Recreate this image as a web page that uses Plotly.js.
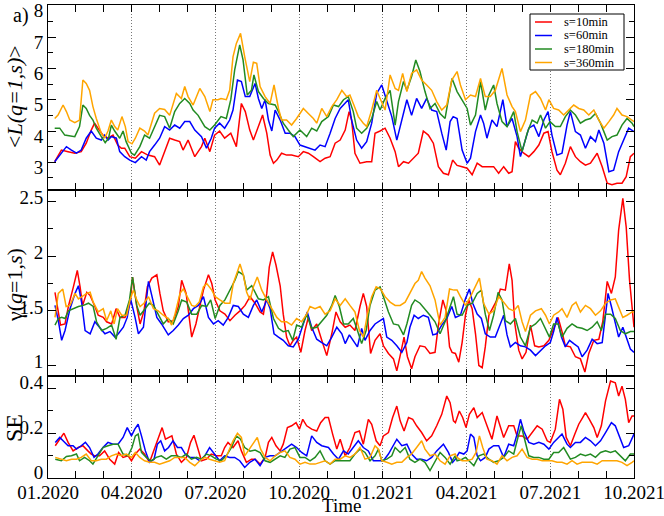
<!DOCTYPE html>
<html>
<head>
<meta charset="utf-8">
<script src="https://cdn.plot.ly/plotly-3.0.1.min.js"></script>
<style>html,body{margin:0;padding:0;background:#fff;}#chart{width:664px;height:516px;}</style>
</head>
<body>
<div id="chart"></div>
<script>
// time in months since 01.2020, value
const seriesNames = ['s=10min', 's=60min', 's=180min', 's=360min'];
const tickLabels = ['01.2020','04.2020','07.2020','10.2020','01.2021','04.2021','07.2021','10.2021'];
const tickMonths = [0, 3, 6, 9, 12, 15, 18, 21];
const L_ticks = [3, 4, 5, 6, 7, 8];
const G_ticks = [1, 1.5, 2, 2.5];
const S_ticks = [0, 0.2, 0.4];

// panel a: <L(q=1,s)>
const L10 = [[0.24,3.02],[0.48,3.39],[0.72,3.34],[0.96,3.29],[1.19,3.34],[1.37,3.61],[1.55,4.03],[1.67,4.25],[1.79,4.09],[1.97,3.87],[2.15,3.77],[2.33,3.87],[2.5,3.55],[2.63,3.45],[2.75,3.45],[2.93,3.18],[3.13,3.13],[3.35,3.34],[3.58,3.23],[3.82,3.18],[4.0,2.91],[4.18,3.34],[4.36,3.77],[4.54,3.71],[4.72,3.66],[4.84,3.39],[5.02,3.71],[5.26,3.18],[5.5,3.5],[5.62,3.77],[5.8,3.34],[5.97,3.87],[6.15,4.0],[6.33,3.77],[6.55,3.93],[6.75,3.5],[6.93,4.88],[7.07,4.62],[7.23,4.03],[7.36,3.71],[7.54,4.14],[7.69,4.51],[7.84,3.93],[7.96,3.23],[8.08,2.97],[8.2,3.07],[8.37,3.29],[8.55,3.23],[8.73,3.23],[8.97,3.18],[9.15,3.34],[9.33,3.29],[9.51,3.18],[9.75,3.02],[9.93,3.13],[10.11,3.18],[10.29,3.61],[10.47,3.71],[10.65,4.03],[10.79,4.62],[10.88,4.35],[11.0,3.29],[11.18,2.97],[11.42,3.02],[11.6,3.02],[11.72,3.93],[11.9,4.0],[12.08,4.09],[12.26,3.77],[12.44,3.34],[12.56,2.86],[12.74,3.02],[12.92,2.97],[13.09,3.13],[13.27,3.29],[13.45,4.0],[13.63,3.87],[13.81,3.61],[13.99,2.86],[14.17,2.65],[14.35,2.6],[14.5,3.07],[14.66,2.9],[14.84,2.86],[15.02,2.81],[15.2,2.6],[15.38,2.97],[15.56,2.86],[15.8,2.86],[15.97,2.86],[16.15,2.65],[16.33,2.86],[16.51,2.65],[16.63,2.7],[16.75,3.66],[16.87,3.45],[17.05,3.29],[17.23,3.18],[17.41,3.34],[17.59,3.55],[17.77,3.93],[17.92,3.98],[18.06,3.34],[18.24,2.75],[18.36,2.6],[18.54,2.97],[18.72,3.5],[18.9,3.18],[19.08,3.02],[19.26,2.91],[19.44,2.97],[19.68,3.29],[19.86,2.86],[20.04,2.33],[20.21,2.28],[20.39,2.33],[20.57,2.33],[20.72,2.54],[20.87,3.18],[21.0,3.29]];
const L60 = [[0.24,3.02],[0.42,3.23],[0.66,3.5],[0.84,3.39],[1.02,3.29],[1.19,3.39],[1.37,3.77],[1.55,4.0],[1.73,3.77],[1.91,3.71],[2.03,3.87],[2.15,3.71],[2.27,3.82],[2.45,3.77],[2.57,3.34],[2.75,3.18],[2.93,3.07],[3.13,2.99],[3.35,3.18],[3.52,3.07],[3.64,3.34],[3.82,3.55],[4.0,3.77],[4.18,4.14],[4.36,4.03],[4.54,4.19],[4.72,4.09],[4.9,4.3],[5.08,4.3],[5.26,4.03],[5.5,3.82],[5.68,3.45],[5.85,3.77],[5.97,4.09],[6.15,4.25],[6.33,4.09],[6.51,4.35],[6.63,4.67],[6.79,5.63],[6.93,5.58],[7.07,5.1],[7.23,5.1],[7.42,5.52],[7.54,5.04],[7.66,4.72],[7.78,5.0],[7.9,4.35],[8.02,4.0],[8.14,4.67],[8.32,4.35],[8.5,3.93],[8.67,3.93],[8.85,3.82],[9.03,3.55],[9.21,3.5],[9.39,3.45],[9.57,3.39],[9.75,3.55],[9.93,3.5],[10.11,3.93],[10.29,4.4],[10.47,4.72],[10.59,4.83],[10.76,5.0],[10.88,4.35],[11.06,3.71],[11.24,3.45],[11.42,3.66],[11.6,4.25],[11.78,5.2],[11.96,5.47],[12.14,5.0],[12.32,4.46],[12.5,3.71],[12.68,4.35],[12.86,5.0],[13.03,4.5],[13.21,5.04],[13.39,4.72],[13.57,5.04],[13.75,4.67],[13.93,4.62],[14.11,3.93],[14.27,3.39],[14.41,4.3],[14.52,4.46],[14.66,4.4],[14.84,3.39],[15.02,2.97],[15.14,3.13],[15.32,3.98],[15.5,4.51],[15.61,4.25],[15.73,3.77],[15.91,4.35],[16.09,4.14],[16.3,5.0],[16.45,4.14],[16.63,4.4],[16.81,3.82],[16.93,3.18],[17.08,3.61],[17.23,4.09],[17.41,4.19],[17.59,3.82],[17.77,4.35],[17.92,4.62],[18.06,3.87],[18.24,3.23],[18.42,3.29],[18.6,4.19],[18.72,4.62],[18.9,3.98],[19.08,3.87],[19.26,3.45],[19.44,3.82],[19.62,3.66],[19.74,4.03],[19.92,3.61],[20.1,2.7],[20.27,2.75],[20.45,3.34],[20.63,3.71],[20.81,4.09],[21.0,3.98]];
const L180 = [[0.24,4.09],[0.42,4.09],[0.6,3.87],[0.96,3.82],[1.13,4.14],[1.25,4.83],[1.37,4.72],[1.49,4.5],[1.61,4.35],[1.73,4.09],[1.91,3.82],[2.05,3.63],[2.17,3.77],[2.27,4.19],[2.39,4.0],[2.57,3.77],[2.69,4.0],[2.8,3.66],[2.99,3.29],[3.1,3.23],[3.29,3.5],[3.46,3.87],[3.64,3.77],[3.82,4.14],[4.0,4.5],[4.18,4.46],[4.36,4.09],[4.54,4.62],[4.72,4.88],[4.9,5.04],[5.08,4.88],[5.2,4.67],[5.38,4.5],[5.62,4.14],[5.8,4.03],[5.97,4.19],[6.2,4.46],[6.39,4.4],[6.55,5.0],[6.69,5.95],[6.87,6.75],[6.99,6.27],[7.14,5.15],[7.29,5.3],[7.38,5.79],[7.54,5.26],[7.72,5.04],[7.9,4.88],[8.14,4.83],[8.26,4.62],[8.43,4.25],[8.61,4.03],[8.79,3.82],[9.03,4.03],[9.27,3.82],[9.45,4.09],[9.63,4.0],[9.81,4.3],[10.05,4.46],[10.23,4.83],[10.41,4.78],[10.59,5.0],[10.76,5.1],[10.94,4.62],[11.06,4.09],[11.24,3.93],[11.42,4.09],[11.6,4.4],[11.78,4.94],[11.9,4.67],[12.08,5.04],[12.26,5.3],[12.44,4.19],[12.56,4.94],[12.74,5.58],[12.86,5.3],[13.03,5.74],[13.18,6.27],[13.33,5.9],[13.51,5.26],[13.69,4.72],[13.87,4.88],[14.05,4.56],[14.23,4.4],[14.41,5.42],[14.48,5.68],[14.66,5.26],[14.84,5.0],[15.02,4.72],[15.14,4.19],[15.32,4.51],[15.5,5.58],[15.67,4.67],[15.8,5.15],[15.97,5.47],[16.09,4.88],[16.27,4.3],[16.45,4.14],[16.69,4.62],[16.81,3.98],[16.99,3.34],[17.17,3.93],[17.35,4.35],[17.53,4.25],[17.65,4.51],[17.83,4.09],[17.99,4.3],[18.18,4.14],[18.36,4.14],[18.54,4.46],[18.72,4.67],[18.9,4.51],[19.08,4.25],[19.26,4.35],[19.44,4.4],[19.62,4.56],[19.8,4.25],[20.04,3.71],[20.21,3.82],[20.39,3.87],[20.57,4.19],[20.75,4.4],[20.93,4.25],[21.0,4.14]];
const L360 = [[0.24,4.4],[0.36,4.51],[0.54,4.83],[0.66,4.62],[0.78,4.35],[0.96,4.27],[1.13,4.35],[1.25,5.63],[1.37,5.52],[1.49,5.3],[1.61,4.78],[1.73,4.4],[1.91,3.93],[2.03,3.77],[2.15,4.0],[2.27,4.35],[2.39,4.14],[2.5,4.03],[2.65,4.46],[2.77,4.14],[2.87,3.66],[3.01,3.59],[3.13,3.77],[3.29,4.09],[3.46,4.0],[3.58,3.87],[3.82,4.57],[4.0,4.72],[4.18,4.69],[4.36,4.5],[4.6,5.2],[4.78,5.04],[4.9,5.42],[5.02,5.1],[5.2,4.83],[5.44,5.36],[5.62,5.1],[5.8,4.62],[5.91,5.0],[6.09,5.0],[6.2,5.04],[6.39,5.0],[6.51,5.3],[6.63,6.37],[6.75,6.8],[6.9,7.12],[7.05,6.37],[7.23,5.58],[7.36,6.2],[7.48,6.16],[7.6,5.42],[7.78,5.1],[7.96,4.88],[8.1,5.47],[8.26,4.72],[8.37,4.35],[8.55,4.35],[8.73,4.19],[8.91,4.4],[9.15,4.72],[9.33,4.56],[9.51,4.4],[9.63,4.25],[9.81,4.72],[9.99,4.46],[10.17,4.78],[10.35,5.0],[10.53,5.3],[10.7,5.1],[10.82,5.15],[10.94,4.88],[11.12,4.46],[11.3,4.25],[11.42,4.14],[11.6,4.67],[11.78,5.3],[11.9,5.04],[12.08,4.67],[12.26,5.79],[12.44,5.36],[12.56,5.3],[12.71,5.84],[12.86,5.26],[13.03,5.84],[13.21,5.95],[13.39,5.63],[13.57,5.47],[13.75,5.3],[13.93,4.94],[14.11,4.67],[14.29,4.83],[14.47,5.63],[14.66,5.9],[14.78,5.47],[14.96,5.0],[15.14,5.15],[15.32,5.1],[15.5,5.68],[15.67,5.1],[15.85,5.1],[16.03,5.3],[16.27,6.0],[16.45,5.15],[16.63,4.78],[16.75,4.62],[16.93,3.98],[17.11,4.35],[17.29,5.15],[17.47,5.26],[17.65,5.04],[17.83,4.67],[17.95,5.0],[18.12,4.72],[18.3,4.67],[18.48,4.51],[18.66,4.67],[18.84,4.83],[19.02,4.72],[19.2,4.67],[19.38,4.51],[19.56,4.67],[19.74,4.35],[19.92,4.09],[20.1,4.3],[20.27,4.51],[20.39,4.72],[20.57,4.51],[20.75,4.46],[20.93,4.35],[21.0,4.3]];

// panel b: gamma(q=1,s)
const G10 = [[0.25,1.67],[0.37,1.47],[0.45,1.37],[0.61,1.38],[0.73,1.54],[0.91,1.72],[1.05,1.87],[1.15,1.72],[1.24,1.55],[1.39,1.67],[1.51,1.64],[1.68,1.54],[1.8,1.46],[1.98,1.44],[2.1,1.4],[2.28,1.38],[2.44,1.52],[2.58,1.44],[2.76,1.44],[2.94,1.57],[3.03,1.81],[3.18,1.54],[3.3,1.38],[3.44,1.5],[3.56,1.72],[3.72,1.8],[3.9,1.83],[4.01,1.66],[4.13,1.5],[4.31,1.4],[4.49,1.41],[4.67,1.54],[4.79,1.78],[4.95,1.66],[5.07,1.4],[5.15,1.26],[5.3,1.38],[5.45,1.57],[5.57,1.69],[5.75,1.83],[5.87,1.75],[5.99,1.6],[6.16,1.5],[6.34,1.47],[6.52,1.41],[6.7,1.46],[6.88,1.5],[7.06,1.55],[7.24,1.63],[7.42,1.57],[7.6,1.49],[7.72,1.47],[7.84,1.66],[7.93,1.9],[8.05,2.04],[8.17,1.92],[8.32,1.73],[8.43,1.47],[8.55,1.26],[8.67,1.18],[8.79,1.23],[8.91,1.26],[9.06,1.12],[9.21,1.32],[9.33,1.44],[9.45,1.32],[9.63,1.38],[9.81,1.23],[9.99,1.09],[10.17,1.29],[10.32,1.49],[10.47,1.4],[10.65,1.35],[10.82,1.37],[11.0,1.32],[11.18,1.54],[11.3,1.66],[11.42,1.54],[11.56,1.11],[11.72,1.23],[11.9,1.29],[12.02,1.18],[12.2,1.11],[12.38,1.06],[12.5,0.95],[12.62,1.09],[12.76,1.26],[12.88,1.08],[13.03,0.97],[13.15,1.08],[13.33,1.18],[13.51,1.17],[13.69,1.11],[13.87,1.12],[13.99,1.37],[14.15,1.6],[14.27,1.5],[14.39,1.17],[14.48,1.12],[14.6,1.11],[14.72,1.03],[14.84,1.21],[14.96,1.46],[15.08,1.6],[15.2,1.52],[15.32,1.29],[15.44,1.0],[15.56,0.98],[15.67,1.17],[15.8,1.46],[15.97,1.55],[16.09,1.6],[16.21,1.7],[16.39,1.69],[16.53,1.93],[16.63,1.78],[16.73,1.38],[16.87,1.14],[16.99,1.06],[17.13,1.12],[17.29,1.37],[17.44,1.18],[17.59,1.17],[17.77,1.18],[17.95,1.23],[18.12,1.34],[18.28,1.44],[18.42,1.31],[18.54,1.18],[18.72,1.17],[18.9,1.08],[19.08,1.06],[19.24,0.94],[19.38,1.11],[19.56,1.23],[19.74,1.24],[19.88,1.4],[20.04,1.77],[20.19,1.66],[20.33,1.81],[20.45,2.24],[20.6,2.53],[20.72,2.27],[20.84,1.78],[21.0,1.35]];
const G60 = [[0.25,1.55],[0.37,1.41],[0.49,1.23],[0.61,1.32],[0.79,1.52],[0.97,1.66],[1.09,1.73],[1.21,1.57],[1.33,1.32],[1.51,1.29],[1.68,1.4],[1.86,1.35],[2.04,1.29],[2.22,1.31],[2.4,1.26],[2.52,1.29],[2.7,1.35],[2.84,1.44],[2.96,1.61],[3.12,1.44],[3.24,1.29],[3.42,1.35],[3.6,1.77],[3.72,1.64],[3.9,1.44],[4.07,1.38],[4.31,1.28],[4.49,1.32],[4.67,1.37],[4.85,1.43],[5.03,1.46],[5.21,1.52],[5.39,1.55],[5.57,1.63],[5.75,1.44],[5.93,1.38],[6.1,1.41],[6.28,1.37],[6.46,1.44],[6.64,1.55],[6.82,1.54],[7.0,1.47],[7.18,1.44],[7.36,1.55],[7.48,1.6],[7.66,1.49],[7.84,1.6],[7.96,1.52],[8.1,1.29],[8.26,1.26],[8.43,1.23],[8.61,1.18],[8.79,1.17],[8.97,1.24],[9.15,1.38],[9.29,1.49],[9.45,1.35],[9.63,1.24],[9.81,1.21],[9.99,1.18],[10.17,1.26],[10.35,1.35],[10.53,1.29],[10.65,1.2],[10.8,1.28],[10.94,1.23],[11.09,1.17],[11.24,1.34],[11.36,1.23],[11.54,1.32],[11.72,1.38],[11.9,1.41],[12.02,1.43],[12.14,1.26],[12.32,1.23],[12.5,1.18],[12.68,1.12],[12.86,1.21],[12.97,1.35],[13.12,1.46],[13.27,1.43],[13.45,1.46],[13.63,1.44],[13.79,1.28],[13.93,1.29],[14.11,1.37],[14.29,1.43],[14.47,1.54],[14.6,1.44],[14.78,1.46],[14.96,1.61],[15.1,1.7],[15.22,1.57],[15.38,1.47],[15.53,1.43],[15.67,1.29],[15.85,1.26],[16.03,1.26],[16.21,1.38],[16.33,1.46],[16.45,1.28],[16.57,1.17],[16.75,1.21],[16.93,1.18],[17.11,1.17],[17.29,1.14],[17.47,1.09],[17.65,1.14],[17.83,1.18],[18.0,1.21],[18.12,1.31],[18.24,1.44],[18.4,1.26],[18.54,1.17],[18.69,1.23],[18.84,1.2],[19.0,1.17],[19.14,1.08],[19.32,1.14],[19.5,1.24],[19.68,1.2],[19.86,1.21],[20.0,1.49],[20.07,1.66],[20.19,1.54],[20.33,1.4],[20.45,1.26],[20.6,1.35],[20.75,1.23],[20.87,1.15],[21.0,1.12]];
const G180 = [[0.25,1.37],[0.37,1.43],[0.49,1.44],[0.61,1.43],[0.73,1.5],[0.91,1.52],[1.09,1.54],[1.27,1.55],[1.45,1.57],[1.62,1.54],[1.74,1.4],[1.92,1.32],[2.1,1.34],[2.28,1.37],[2.44,1.24],[2.58,1.44],[2.76,1.46],[2.92,1.6],[3.03,1.81],[3.18,1.55],[3.3,1.46],[3.48,1.52],[3.63,1.57],[3.78,1.55],[3.95,1.46],[4.13,1.38],[4.31,1.43],[4.49,1.38],[4.67,1.5],[4.79,1.6],[4.97,1.58],[5.15,1.47],[5.33,1.47],[5.51,1.55],[5.69,1.54],[5.83,1.6],[5.99,1.43],[6.16,1.55],[6.34,1.6],[6.52,1.69],[6.7,1.78],[6.82,1.86],[7.0,1.83],[7.12,1.69],[7.3,1.73],[7.54,1.61],[7.72,1.6],[7.9,1.63],[8.08,1.43],[8.26,1.34],[8.43,1.31],[8.61,1.32],[8.77,1.23],[8.91,1.37],[9.09,1.35],[9.27,1.47],[9.45,1.34],[9.63,1.35],[9.81,1.41],[9.99,1.46],[10.17,1.55],[10.29,1.64],[10.44,1.54],[10.59,1.38],[10.76,1.38],[10.94,1.43],[11.09,1.32],[11.24,1.2],[11.4,1.32],[11.54,1.55],[11.72,1.69],[11.9,1.72],[12.02,1.63],[12.2,1.49],[12.38,1.38],[12.56,1.37],[12.74,1.28],[12.86,1.38],[13.03,1.55],[13.15,1.6],[13.33,1.57],[13.51,1.52],[13.69,1.46],[13.87,1.4],[14.05,1.29],[14.23,1.4],[14.41,1.55],[14.53,1.63],[14.66,1.47],[14.84,1.46],[15.02,1.55],[15.2,1.57],[15.38,1.66],[15.53,1.69],[15.67,1.47],[15.82,1.32],[15.97,1.46],[16.13,1.67],[16.27,1.6],[16.39,1.41],[16.57,1.38],[16.75,1.43],[16.93,1.26],[17.11,1.18],[17.29,1.35],[17.47,1.38],[17.65,1.43],[17.8,1.35],[17.97,1.26],[18.12,1.38],[18.28,1.38],[18.42,1.26],[18.6,1.34],[18.78,1.38],[18.96,1.35],[19.14,1.34],[19.32,1.32],[19.5,1.35],[19.68,1.4],[19.83,1.32],[19.98,1.47],[20.16,1.47],[20.33,1.43],[20.51,1.32],[20.69,1.29],[20.87,1.31],[21.0,1.31]];
const G360 = [[0.25,1.44],[0.37,1.66],[0.53,1.7],[0.65,1.54],[0.79,1.55],[0.97,1.66],[1.09,1.61],[1.21,1.63],[1.39,1.66],[1.51,1.67],[1.62,1.58],[1.8,1.49],[1.98,1.52],[2.1,1.41],[2.25,1.5],[2.37,1.38],[2.49,1.52],[2.64,1.46],[2.82,1.46],[2.94,1.6],[3.06,1.69],[3.18,1.6],[3.3,1.54],[3.44,1.57],[3.6,1.63],[3.78,1.52],[3.95,1.5],[4.13,1.46],[4.31,1.43],[4.43,1.37],[4.55,1.47],[4.73,1.66],[4.85,1.7],[5.03,1.61],[5.15,1.55],[5.27,1.54],[5.42,1.58],[5.57,1.72],[5.69,1.75],[5.87,1.69],[5.99,1.63],[6.16,1.6],[6.34,1.57],[6.52,1.57],[6.64,1.75],[6.79,1.86],[6.88,1.93],[7.0,1.83],[7.12,1.67],[7.24,1.6],[7.36,1.72],[7.5,1.81],[7.66,1.69],[7.84,1.6],[8.02,1.52],[8.2,1.44],[8.37,1.4],[8.55,1.4],[8.73,1.37],[8.91,1.43],[9.09,1.4],[9.27,1.47],[9.39,1.54],[9.57,1.52],[9.75,1.54],[9.93,1.47],[10.11,1.5],[10.29,1.61],[10.47,1.55],[10.65,1.61],[10.82,1.55],[11.0,1.49],[11.16,1.32],[11.3,1.26],[11.45,1.47],[11.6,1.63],[11.76,1.72],[11.92,1.7],[12.08,1.63],[12.26,1.58],[12.44,1.55],[12.62,1.55],[12.8,1.58],[12.97,1.66],[13.15,1.75],[13.27,1.78],[13.39,1.86],[13.51,1.8],[13.69,1.73],[13.87,1.6],[14.05,1.37],[14.23,1.44],[14.39,1.7],[14.55,1.69],[14.66,1.69],[14.78,1.63],[14.96,1.55],[15.14,1.63],[15.32,1.72],[15.46,1.8],[15.61,1.57],[15.8,1.47],[15.97,1.5],[16.15,1.63],[16.33,1.58],[16.51,1.52],[16.69,1.5],[16.85,1.55],[16.99,1.4],[17.11,1.31],[17.29,1.46],[17.47,1.5],[17.68,1.52],[17.83,1.46],[17.97,1.38],[18.12,1.46],[18.3,1.49],[18.42,1.52],[18.6,1.44],[18.78,1.55],[18.92,1.58],[19.08,1.49],[19.26,1.55],[19.44,1.52],[19.62,1.46],[19.8,1.5],[19.98,1.57],[20.16,1.6],[20.33,1.61],[20.45,1.54],[20.6,1.44],[20.75,1.46],[20.93,1.49],[21.0,1.49]];

// panel c: SE
const S10 = [[0.26,0.144],[0.42,0.173],[0.57,0.2],[0.72,0.159],[0.9,0.121],[1.08,0.136],[1.25,0.144],[1.43,0.121],[1.55,0.107],[1.67,0.099],[1.85,0.099],[2.03,0.121],[2.21,0.084],[2.39,0.062],[2.53,0.114],[2.69,0.092],[2.87,0.099],[2.99,0.077],[3.13,0.107],[3.29,0.129],[3.46,0.107],[3.64,0.07],[3.82,0.136],[3.97,0.188],[4.09,0.225],[4.21,0.173],[4.36,0.181],[4.44,0.188],[4.6,0.107],[4.78,0.07],[4.96,0.092],[5.11,0.159],[5.23,0.191],[5.35,0.136],[5.5,0.077],[5.68,0.084],[5.85,0.107],[6.03,0.099],[6.21,0.099],[6.33,0.136],[6.45,0.159],[6.63,0.136],[6.81,0.166],[6.93,0.121],[7.11,0.07],[7.29,0.084],[7.42,0.084],[7.6,0.062],[7.78,0.092],[7.9,0.159],[8.02,0.181],[8.17,0.144],[8.32,0.121],[8.43,0.151],[8.58,0.225],[8.73,0.233],[8.89,0.247],[9.01,0.218],[9.13,0.262],[9.27,0.233],[9.45,0.218],[9.63,0.21],[9.77,0.247],[9.93,0.27],[10.05,0.27],[10.2,0.196],[10.35,0.129],[10.47,0.173],[10.65,0.099],[10.82,0.136],[11.0,0.203],[11.16,0.21],[11.3,0.151],[11.48,0.262],[11.6,0.24],[11.76,0.166],[11.9,0.144],[12.02,0.188],[12.2,0.203],[12.35,0.27],[12.5,0.321],[12.62,0.255],[12.76,0.21],[12.92,0.27],[13.07,0.262],[13.21,0.233],[13.39,0.203],[13.57,0.166],[13.75,0.188],[13.93,0.233],[14.11,0.284],[14.29,0.366],[14.41,0.336],[14.53,0.255],[14.6,0.247],[14.74,0.299],[14.86,0.27],[14.98,0.225],[15.1,0.284],[15.26,0.314],[15.38,0.27],[15.56,0.292],[15.67,0.255],[15.8,0.203],[15.91,0.173],[16.09,0.277],[16.21,0.233],[16.33,0.181],[16.51,0.233],[16.69,0.233],[16.81,0.188],[16.99,0.188],[17.17,0.173],[17.35,0.203],[17.53,0.233],[17.71,0.218],[17.89,0.166],[18.0,0.159],[18.18,0.218],[18.33,0.351],[18.45,0.307],[18.57,0.181],[18.72,0.144],[18.88,0.196],[19.02,0.24],[19.16,0.27],[19.26,0.292],[19.4,0.262],[19.56,0.225],[19.68,0.181],[19.83,0.233],[19.98,0.344],[20.16,0.433],[20.33,0.425],[20.45,0.366],[20.57,0.41],[20.69,0.351],[20.81,0.247],[20.93,0.277],[21.0,0.277]];
const S60 = [[0.26,0.159],[0.42,0.181],[0.54,0.166],[0.72,0.144],[0.9,0.144],[1.02,0.129],[1.19,0.144],[1.34,0.159],[1.49,0.136],[1.65,0.092],[1.79,0.107],[1.97,0.136],[2.15,0.159],[2.33,0.151],[2.51,0.151],[2.69,0.181],[2.84,0.225],[2.99,0.188],[3.11,0.218],[3.23,0.24],[3.35,0.188],[3.49,0.121],[3.64,0.07],[3.8,0.084],[3.92,0.151],[4.04,0.166],[4.18,0.121],[4.32,0.136],[4.48,0.166],[4.64,0.136],[4.78,0.136],[4.92,0.107],[5.08,0.092],[5.26,0.092],[5.44,0.077],[5.62,0.099],[5.79,0.136],[5.97,0.107],[6.15,0.077],[6.33,0.099],[6.51,0.092],[6.69,0.092],[6.87,0.077],[7.05,0.047],[7.23,0.07],[7.42,0.084],[7.6,0.055],[7.78,0.092],[7.96,0.099],[8.14,0.099],[8.32,0.114],[8.49,0.129],[8.73,0.151],[8.91,0.136],[9.09,0.114],[9.27,0.099],[9.45,0.188],[9.63,0.159],[9.81,0.144],[10.05,0.136],[10.23,0.107],[10.41,0.084],[10.59,0.121],[10.76,0.107],[10.94,0.136],[11.12,0.166],[11.3,0.136],[11.48,0.121],[11.66,0.077],[11.84,0.077],[12.02,0.077],[12.2,0.107],[12.38,0.151],[12.5,0.173],[12.68,0.144],[12.86,0.151],[13.03,0.107],[13.21,0.084],[13.39,0.084],[13.57,0.077],[13.75,0.092],[13.93,0.121],[14.17,0.151],[14.35,0.114],[14.5,0.07],[14.6,0.084],[14.74,0.114],[14.9,0.107],[15.02,0.121],[15.14,0.196],[15.26,0.181],[15.38,0.099],[15.5,0.077],[15.67,0.092],[15.8,0.129],[15.97,0.144],[16.15,0.144],[16.33,0.092],[16.51,0.151],[16.69,0.144],[16.81,0.196],[16.93,0.262],[17.05,0.21],[17.23,0.159],[17.41,0.151],[17.59,0.159],[17.77,0.151],[17.95,0.129],[18.12,0.159],[18.28,0.181],[18.42,0.196],[18.6,0.151],[18.72,0.136],[18.9,0.159],[19.08,0.159],[19.26,0.181],[19.44,0.166],[19.62,0.144],[19.8,0.166],[19.98,0.203],[20.19,0.247],[20.33,0.233],[20.51,0.173],[20.63,0.136],[20.81,0.144],[21.0,0.196]];
const S180 = [[0.26,0.084],[0.48,0.077],[0.66,0.096],[0.84,0.099],[1.02,0.107],[1.13,0.077],[1.31,0.092],[1.49,0.077],[1.61,0.062],[1.79,0.099],[1.97,0.136],[2.15,0.144],[2.33,0.151],[2.51,0.151],[2.69,0.107],[2.87,0.099],[3.01,0.136],[3.13,0.188],[3.23,0.196],[3.35,0.114],[3.52,0.092],[3.7,0.077],[3.88,0.092],[4.06,0.099],[4.24,0.084],[4.42,0.099],[4.6,0.099],[4.78,0.092],[4.96,0.107],[5.14,0.084],[5.32,0.092],[5.5,0.084],[5.68,0.107],[5.85,0.099],[6.03,0.084],[6.21,0.077],[6.39,0.099],[6.57,0.136],[6.75,0.188],[6.9,0.173],[7.05,0.136],[7.24,0.12],[7.42,0.125],[7.6,0.114],[7.78,0.077],[7.96,0.07],[8.14,0.084],[8.32,0.099],[8.49,0.092],[8.67,0.129],[8.85,0.136],[9.03,0.092],[9.21,0.092],[9.39,0.077],[9.57,0.092],[9.75,0.121],[9.93,0.077],[10.11,0.062],[10.29,0.077],[10.47,0.077],[10.65,0.077],[10.82,0.077],[11.0,0.107],[11.18,0.129],[11.36,0.114],[11.54,0.077],[11.72,0.099],[11.84,0.129],[11.96,0.077],[12.14,0.084],[12.32,0.099],[12.44,0.136],[12.62,0.114],[12.8,0.136],[12.97,0.084],[13.15,0.07],[13.33,0.084],[13.51,0.07],[13.69,0.033],[13.87,0.077],[14.05,0.114],[14.23,0.092],[14.41,0.062],[14.59,0.099],[14.66,0.077],[14.84,0.084],[14.96,0.092],[15.14,0.07],[15.26,0.055],[15.44,0.099],[15.61,0.107],[15.8,0.084],[15.97,0.07],[16.15,0.077],[16.33,0.092],[16.51,0.121],[16.69,0.107],[16.84,0.181],[16.96,0.233],[17.08,0.173],[17.23,0.099],[17.41,0.092],[17.59,0.092],[17.77,0.084],[17.95,0.084],[18.12,0.114],[18.3,0.114],[18.48,0.136],[18.6,0.107],[18.72,0.084],[18.9,0.092],[19.08,0.107],[19.26,0.099],[19.44,0.107],[19.62,0.092],[19.8,0.114],[19.98,0.121],[20.16,0.114],[20.33,0.121],[20.51,0.099],[20.69,0.077],[20.87,0.107],[21.0,0.107]];
const S360 = [[0.26,0.092],[0.48,0.084],[0.66,0.077],[0.84,0.084],[1.02,0.084],[1.19,0.092],[1.37,0.107],[1.55,0.077],[1.73,0.077],[1.91,0.084],[2.09,0.084],[2.27,0.099],[2.45,0.107],[2.63,0.099],[2.81,0.107],[2.99,0.092],[3.13,0.114],[3.29,0.092],[3.46,0.077],[3.64,0.07],[3.82,0.07],[4.0,0.062],[4.18,0.07],[4.36,0.077],[4.54,0.092],[4.72,0.092],[4.9,0.092],[5.08,0.07],[5.26,0.055],[5.44,0.077],[5.62,0.092],[5.79,0.084],[5.97,0.077],[6.15,0.07],[6.33,0.077],[6.51,0.129],[6.63,0.166],[6.79,0.2],[6.93,0.181],[7.05,0.099],[7.23,0.129],[7.38,0.159],[7.5,0.181],[7.62,0.129],[7.78,0.092],[7.96,0.077],[8.14,0.099],[8.32,0.114],[8.49,0.121],[8.67,0.092],[8.85,0.084],[9.03,0.062],[9.21,0.07],[9.39,0.062],[9.57,0.062],[9.75,0.07],[9.93,0.077],[10.11,0.062],[10.29,0.084],[10.47,0.084],[10.65,0.099],[10.82,0.092],[11.0,0.107],[11.18,0.136],[11.36,0.084],[11.54,0.092],[11.72,0.144],[11.84,0.129],[11.96,0.077],[12.14,0.07],[12.32,0.062],[12.5,0.07],[12.68,0.07],[12.86,0.092],[13.03,0.107],[13.21,0.136],[13.39,0.166],[13.51,0.129],[13.69,0.099],[13.87,0.107],[14.05,0.077],[14.23,0.062],[14.41,0.099],[14.59,0.107],[14.66,0.092],[14.84,0.077],[15.02,0.077],[15.2,0.084],[15.34,0.114],[15.46,0.188],[15.58,0.136],[15.73,0.084],[15.91,0.077],[16.09,0.062],[16.27,0.099],[16.45,0.077],[16.63,0.092],[16.81,0.099],[16.99,0.129],[17.17,0.092],[17.35,0.084],[17.53,0.084],[17.71,0.077],[17.89,0.077],[18.06,0.077],[18.24,0.07],[18.42,0.07],[18.6,0.062],[18.78,0.077],[18.96,0.062],[19.14,0.07],[19.32,0.07],[19.5,0.07],[19.68,0.062],[19.86,0.077],[20.04,0.077],[20.21,0.077],[20.39,0.077],[20.57,0.07],[20.75,0.055],[20.93,0.07],[21.0,0.077]];

const colors = ['#ff0000', '#0000ff', '#228b22', '#ffa500'];
const FONT = 'Liberation Serif, Times New Roman, serif';

const panels = [
  {data: [L10, L60, L180, L360], xa: 'x3', ya: 'y3'},
  {data: [G10, G60, G180, G360], xa: 'x2', ya: 'y2'},
  {data: [S10, S60, S180, S360], xa: 'x', ya: 'y'}
];

const traces = [];
panels.forEach(p => {
  p.data.forEach((ser, i) => {
    traces.push({
      type: 'scatter', mode: 'lines',
      x: ser.map(d => d[0]), y: ser.map(d => d[1]),
      xaxis: p.xa, yaxis: p.ya,
      name: seriesNames[i],
      line: {color: colors[i], width: 1.5},
      showlegend: false, hoverinfo: 'skip'
    });
  });
});

function xAxis(anchor, labels) {
  return {
    anchor: anchor, range: [0, 21],
    tickmode: 'array', tickvals: tickMonths, ticktext: tickLabels,
    showticklabels: labels, ticklabeloverflow: 'allow', ticklabelstandoff: -3,
    ticks: 'inside', ticklen: 7, tickwidth: 1, tickcolor: '#000',
    showline: true, linecolor: '#000', linewidth: 1, mirror: 'ticks',
    showgrid: true, gridcolor: '#777', griddash: '1px,2px', gridwidth: 1,
    zeroline: false,
    minor: {tickmode: 'linear', tick0: 0, dtick: 1, ticks: 'inside', ticklen: 7, tickcolor: '#000', showgrid: false},
    tickfont: {family: FONT, size: 19, color: '#000'}
  };
}
function yAxis(anchor, domain, range, tv, minorD, shift) {
  return {
    anchor: anchor, domain: domain, range: range,
    tickmode: 'array', tickvals: tv, ticktext: tv.map(v => String(v)),
    ticklabeloverflow: 'allow', ticklabelshift: shift,
    ticks: 'inside', ticklen: 8, tickwidth: 1, tickcolor: '#000',
    showline: true, linecolor: '#000', linewidth: 1, mirror: 'ticks',
    showgrid: false, zeroline: false,
    minor: {tickmode: 'linear', tick0: 0, dtick: minorD, ticks: 'inside', ticklen: 5, tickcolor: '#000', showgrid: false},
    tickfont: {family: FONT, size: 19, color: '#000'}
  };
}

// pixel helpers for fixed text placement (plot area 48..634 x 5..478)
const px = v => (v - 48) / 586;
const py = v => (478 - v) / 473;

const annotations = [
  {text: 'a)', x: px(11), y: py(15), xref: 'paper', yref: 'paper', xanchor: 'left', yanchor: 'middle', showarrow: false, font: {family: FONT, size: 20, color: '#000'}},
  {text: '&lt;<i>L(q=1,s)</i>&gt;', x: px(15), y: py(97), xref: 'paper', yref: 'paper', xanchor: 'center', yanchor: 'middle', textangle: -90, showarrow: false, font: {family: FONT, size: 22, color: '#000'}},
  {text: 'γ(<i>q</i>=1,<i>s</i>)', x: px(14), y: py(285), xref: 'paper', yref: 'paper', xanchor: 'center', yanchor: 'middle', textangle: -90, showarrow: false, font: {family: FONT, size: 22, color: '#000'}},
  {text: 'SE', x: px(14), y: py(428), xref: 'paper', yref: 'paper', xanchor: 'center', yanchor: 'middle', textangle: -90, showarrow: false, font: {family: FONT, size: 24, color: '#000'}},
  {text: 'Time', x: px(341), y: py(505.5), xref: 'paper', yref: 'paper', xanchor: 'center', yanchor: 'middle', showarrow: false, font: {family: FONT, size: 19, color: '#000'}}
];
const legRows = [22, 35.5, 49, 62.5];
const shapes = [
  {type: 'rect', xref: 'paper', yref: 'paper', x0: px(530), x1: px(624), y0: py(70), y1: py(14), line: {color: '#000', width: 1}, fillcolor: '#fff', layer: 'above'}
];
seriesNames.forEach((n, i) => {
  shapes.push({type: 'line', xref: 'paper', yref: 'paper', x0: px(535), x1: px(552), y0: py(legRows[i]), y1: py(legRows[i]), line: {color: colors[i], width: 1.5}, layer: 'above'});
  annotations.push({text: n, x: px(562), y: py(legRows[i]), xref: 'paper', yref: 'paper', xanchor: 'left', yanchor: 'middle', showarrow: false, font: {family: FONT, size: 12.5, color: '#000'}});
});

const layout = {
  width: 664, height: 516,
  margin: {l: 48, r: 30, t: 5, b: 38, pad: 0},
  paper_bgcolor: '#fff', plot_bgcolor: '#fff',
  showlegend: false,
  font: {family: FONT, color: '#000'},
  xaxis: xAxis('y', true),
  xaxis2: Object.assign(xAxis('y2', false), {matches: 'x'}),
  xaxis3: Object.assign(xAxis('y3', false), {matches: 'x'}),
  yaxis: yAxis('x', [0, 0.2167], [0, 0.4575], S_ticks, 0.1, -6),
  yaxis2: yAxis('x2', [0.2167, 0.6089], [0.908, 2.607], G_ticks, 0.25, -4),
  yaxis3: yAxis('x3', [0.6089, 1], [2.115, 8.026], L_ticks, 0.5, 5),
  annotations: annotations,
  shapes: shapes
};

Plotly.newPlot('chart', traces, layout, {staticPlot: true, displayModeBar: false});
</script>
</body>
</html>
